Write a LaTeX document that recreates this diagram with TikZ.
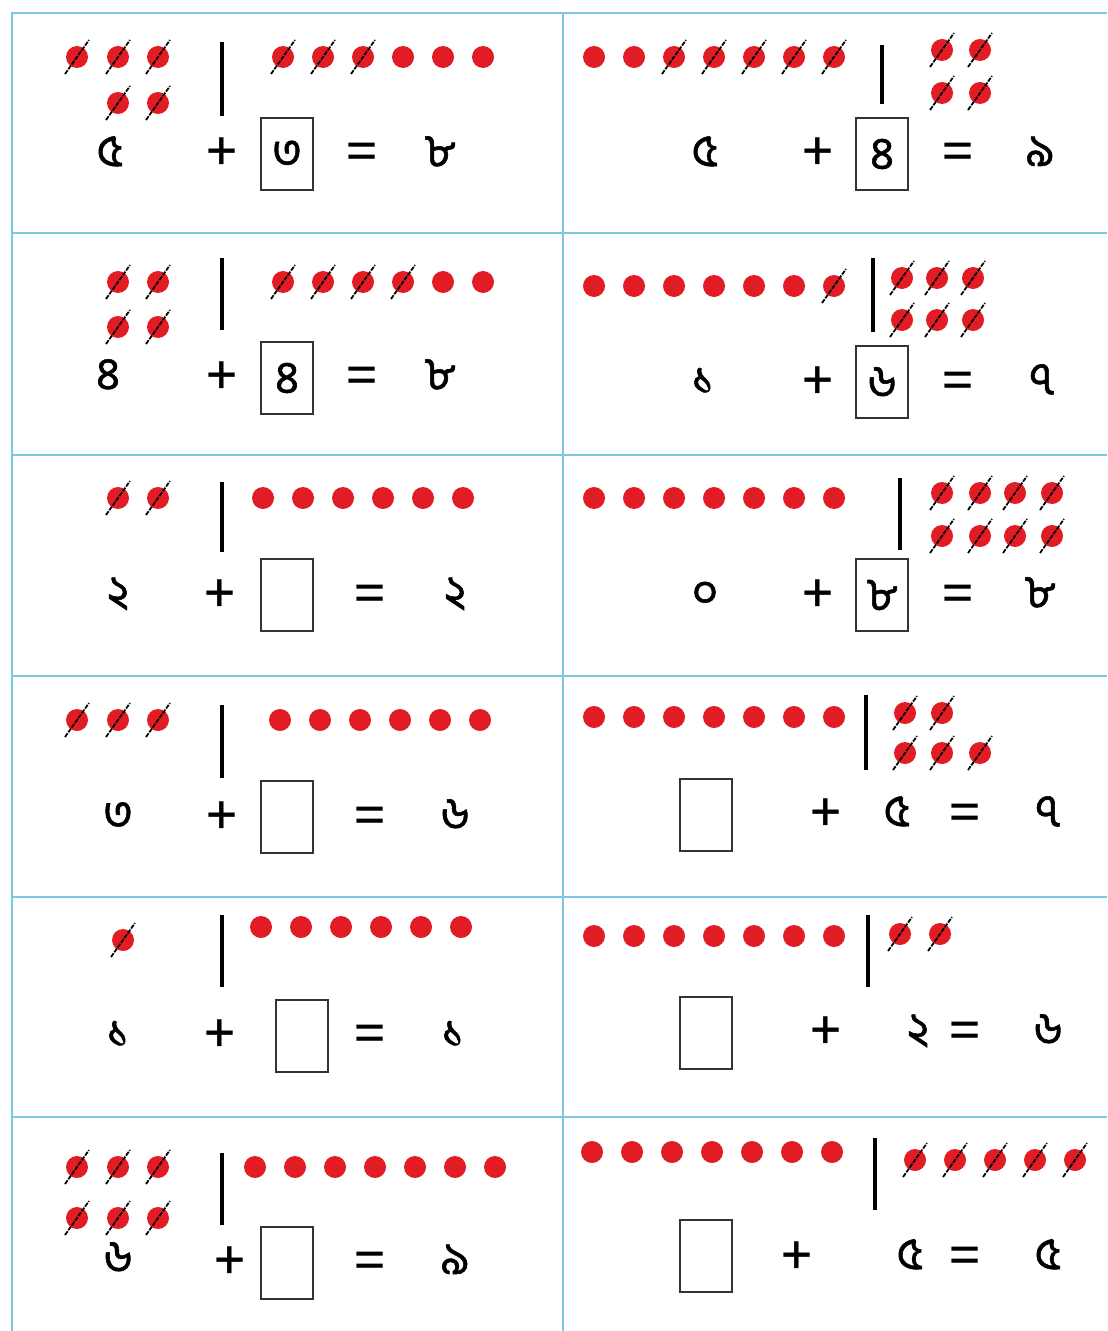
\documentclass[tikz,border=0pt]{standalone}
\usepackage{fontspec}
\newfontfamily\bnfont[Script=Bengali,FakeBold=1.2]{Hind Siliguri}
\newfontfamily\opfont{Hind Siliguri}
\definecolor{gridblue}{RGB}{125,198,228}
\definecolor{dotred}{RGB}{226,28,36}

\begin{document}
\begin{tikzpicture}[x=0.02cm, y=-0.02cm,
	gridline/.style={gridblue, line width=1.4pt},
	reddot/.style={fill=dotred},
	strike/.style={black, line width=1pt, dash pattern=on 2.6pt off 0.7pt},
	bar/.style={black, line width=2pt},
	numtext/.style={font=\bnfont\fontsize{26}{30}\selectfont, inner sep=0pt, anchor=base},
	optext/.style={font=\opfont\fontsize{34}{38}\selectfont, inner sep=0pt, anchor=base, yshift=-0.08cm},
	numbox/.style={draw=black!80, line width=1pt, minimum width=1.04cm, minimum height=1.44cm, inner sep=0pt, font=\bnfont\fontsize{26}{30}\selectfont}]
	\useasboundingbox (0,0) rectangle (1107,1331);
	
	% ==== 表格线 ====
	\draw[gridline] (12,1331) -- (12,13) -- (1107,13);
	\draw[gridline] (563,13) -- (563,1331);
	\foreach \y in {233,455,676,897,1117}
		\draw[gridline] (12,\y) -- (1107,\y);
	
	% ==== 第1行 ====
	\begin{scope}
		% 左
		\foreach \x/\y in {77/57,118/57,158/57,118/103,158/103,283/57,323/57,363/57} {
			\fill[reddot] (\x,\y) circle (11);
			\draw[strike] ({\x-12},{\y+17}) -- ({\x+12},{\y-17});
		}
		\foreach \x in {403,443,483} \fill[reddot] (\x,57) circle (11);
		\draw[bar] (222,42) -- (222,116);
		\node[numtext] (r1L-a) at (110,166) {৫};
		\node[optext] (r1L-plus) at (222,168) {+};
		\node[numbox] (r1L-box) at (287,154) {৩};
		\node[optext] (r1L-eq) at (362,168) {=};
		\node[numtext] (r1L-sum) at (440,166) {৮};
		% 右
		\foreach \x in {594,634} \fill[reddot] (\x,57) circle (11);
		\foreach \x/\y in {674/57,714/57,754/57,794/57,834/57,942/50,980/50,942/93,980/93} {
			\fill[reddot] (\x,\y) circle (11);
			\draw[strike] ({\x-12},{\y+17}) -- ({\x+12},{\y-17});
		}
		\draw[bar] (882,45) -- (882,104);
		\node[numtext] (r1R-a) at (705,166) {৫};
		\node[optext] (r1R-plus) at (818,168) {+};
		\node[numbox] (r1R-box) at (882,154) {৪};
		\node[optext] (r1R-eq) at (958,168) {=};
		\node[numtext] (r1R-sum) at (1040,166) {৯};
	\end{scope}
	
	% ==== 第2行 ====
	\begin{scope}
		% 左
		\foreach \x/\y in {118/282,158/282,118/327,158/327,283/282,323/282,363/282,403/282} {
			\fill[reddot] (\x,\y) circle (11);
			\draw[strike] ({\x-12},{\y+17}) -- ({\x+12},{\y-17});
		}
		\foreach \x in {443,483} \fill[reddot] (\x,282) circle (11);
		\draw[bar] (222,258) -- (222,330);
		\node[numtext] (r2L-a) at (108,389) {৪};
		\node[optext] (r2L-plus) at (222,391) {+};
		\node[numbox] (r2L-box) at (287,378) {৪};
		\node[optext] (r2L-eq) at (362,391) {=};
		\node[numtext] (r2L-sum) at (440,389) {৮};
		% 右
		\foreach \x in {594,634,...,794} \fill[reddot] (\x,286) circle (11);
		\foreach \x/\y in {834/286,902/278,937/278,973/278,902/320,937/320,973/320} {
			\fill[reddot] (\x,\y) circle (11);
			\draw[strike] ({\x-12},{\y+17}) -- ({\x+12},{\y-17});
		}
		\draw[bar] (873,258) -- (873,332);
		\node[numtext] (r2R-a) at (703,394) {১};
		\node[optext] (r2R-plus) at (818,396) {+};
		\node[numbox] (r2R-box) at (882,382) {৬};
		\node[optext] (r2R-eq) at (958,396) {=};
		\node[numtext] (r2R-sum) at (1042,394) {৭};
	\end{scope}
	
	% ==== 第3行 ====
	\begin{scope}
		% 左
		\foreach \x/\y in {118/498,158/498} {
			\fill[reddot] (\x,\y) circle (11);
			\draw[strike] ({\x-12},{\y+17}) -- ({\x+12},{\y-17});
		}
		\foreach \x in {263,303,...,463} \fill[reddot] (\x,498) circle (11);
		\draw[bar] (222,482) -- (222,552);
		\node[numtext] (r3L-a) at (118,607) {২};
		\node[optext] (r3L-plus) at (220,609) {+};
		\node[numbox] (r3L-box) at (287,595) {};
		\node[optext] (r3L-eq) at (370,609) {=};
		\node[numtext] (r3L-sum) at (455,607) {২};
		% 右
		\foreach \x in {594,634,...,834} \fill[reddot] (\x,498) circle (11);
		\foreach \x/\y in {942/493,980/493,1015/493,1052/493,942/536,980/536,1015/536,1052/536} {
			\fill[reddot] (\x,\y) circle (11);
			\draw[strike] ({\x-12},{\y+17}) -- ({\x+12},{\y-17});
		}
		\draw[bar] (900,478) -- (900,550);
		\node[numtext] (r3R-a) at (705,607) {০};
		\node[optext] (r3R-plus) at (818,609) {+};
		\node[numbox] (r3R-box) at (882,595) {৮};
		\node[optext] (r3R-eq) at (958,609) {=};
		\node[numtext] (r3R-sum) at (1040,607) {৮};
	\end{scope}
	
	% ==== 第4行 ====
	\begin{scope}
		% 左
		\foreach \x/\y in {77/720,118/720,158/720} {
			\fill[reddot] (\x,\y) circle (11);
			\draw[strike] ({\x-12},{\y+17}) -- ({\x+12},{\y-17});
		}
		\foreach \x in {280,320,...,480} \fill[reddot] (\x,720) circle (11);
		\draw[bar] (222,705) -- (222,778);
		\node[numtext] (r4L-a) at (118,829) {৩};
		\node[optext] (r4L-plus) at (222,831) {+};
		\node[numbox] (r4L-box) at (287,817) {};
		\node[optext] (r4L-eq) at (370,831) {=};
		\node[numtext] (r4L-sum) at (455,829) {৬};
		% 右
		\foreach \x in {594,634,...,834} \fill[reddot] (\x,717) circle (11);
		\foreach \x/\y in {905/713,942/713,905/753,942/753,980/753} {
			\fill[reddot] (\x,\y) circle (11);
			\draw[strike] ({\x-12},{\y+17}) -- ({\x+12},{\y-17});
		}
		\draw[bar] (866,695) -- (866,770);
		\node[numbox] (r4R-box) at (706,815) {};
		\node[optext] (r4R-plus) at (826,828) {+};
		\node[numtext] (r4R-b) at (897,826) {৫};
		\node[optext] (r4R-eq) at (965,828) {=};
		\node[numtext] (r4R-sum) at (1048,826) {৭};
	\end{scope}
	
	% ==== 第5行 ====
	\begin{scope}
		% 左
		\fill[reddot] (123,940) circle (11);
		\draw[strike] (111,957) -- (135,923);
		\foreach \x in {261,301,...,461} \fill[reddot] (\x,927) circle (11);
		\draw[bar] (222,915) -- (222,987);
		\node[numtext] (r5L-a) at (118,1047) {১};
		\node[optext] (r5L-plus) at (220,1049) {+};
		\node[numbox] (r5L-box) at (302,1036) {};
		\node[optext] (r5L-eq) at (370,1049) {=};
		\node[numtext] (r5L-sum) at (453,1047) {১};
		% 右
		\foreach \x in {594,634,...,834} \fill[reddot] (\x,936) circle (11);
		\foreach \x/\y in {900/934,940/934} {
			\fill[reddot] (\x,\y) circle (11);
			\draw[strike] ({\x-12},{\y+17}) -- ({\x+12},{\y-17});
		}
		\draw[bar] (868,915) -- (868,987);
		\node[numbox] (r5R-box) at (706,1033) {};
		\node[optext] (r5R-plus) at (826,1046) {+};
		\node[numtext] (r5R-b) at (918,1044) {২};
		\node[optext] (r5R-eq) at (965,1046) {=};
		\node[numtext] (r5R-sum) at (1048,1044) {৬};
	\end{scope}
	
	% ==== 第6行 ====
	\begin{scope}
		% 左
		\foreach \x/\y in {77/1167,118/1167,158/1167,77/1218,118/1218,158/1218} {
			\fill[reddot] (\x,\y) circle (11);
			\draw[strike] ({\x-12},{\y+17}) -- ({\x+12},{\y-17});
		}
		\foreach \x in {255,295,...,495} \fill[reddot] (\x,1167) circle (11);
		\draw[bar] (222,1153) -- (222,1225);
		\node[numtext] (r6L-a) at (118,1272) {৬};
		\node[optext] (r6L-plus) at (230,1276) {+};
		\node[numbox] (r6L-box) at (287,1263) {};
		\node[optext] (r6L-eq) at (370,1276) {=};
		\node[numtext] (r6L-sum) at (455,1274) {৯};
		% 右
		\foreach \x in {592,632,...,832} \fill[reddot] (\x,1152) circle (11);
		\foreach \x/\y in {915/1160,955/1160,995/1160,1035/1160,1075/1160} {
			\fill[reddot] (\x,\y) circle (11);
			\draw[strike] ({\x-12},{\y+17}) -- ({\x+12},{\y-17});
		}
		\draw[bar] (875,1138) -- (875,1210);
		\node[numbox] (r6R-box) at (706,1256) {};
		\node[optext] (r6R-plus) at (797,1271) {+};
		\node[numtext] (r6R-b) at (910,1269) {৫};
		\node[optext] (r6R-eq) at (965,1271) {=};
		\node[numtext] (r6R-sum) at (1048,1269) {৫};
	\end{scope}
\end{tikzpicture}
\end{document}
